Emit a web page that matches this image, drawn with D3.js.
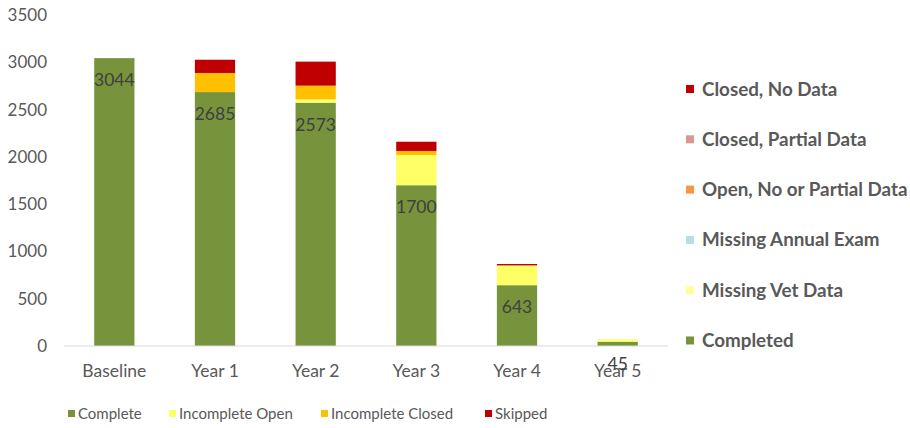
<!DOCTYPE html>
<html><head><meta charset="utf-8">
<script src="https://cdn.jsdelivr.net/npm/d3@7"></script>
<style>body{margin:0;background:#fff}svg{display:block}text{font-family:Lato,"Open Sans",sans-serif}</style>
</head><body><svg id="c" width="910" height="428"></svg>
<script>
const categories = ["Baseline","Year 1","Year 2","Year 3","Year 4","Year 5"];
const complete = [3044,2685,2573,1700,643,45];
const incompleteOpen = [0,0,35,320,206,25];
const incompleteClosed = [0,202,145,42,4,0];
const skipped = [0,140,254,98,14,0];
const seriesNames = ["Complete","Incomplete Open","Incomplete Closed","Skipped"];
const seriesColors = ["#77933C","#FFFF66","#FFC000","#C00000"];
const yTicks = [0,500,1000,1500,2000,2500,3000,3500];
const sideLegend = ["Closed, No Data","Closed, Partial Data","Open, No or Partial Data","Missing Annual Exam","Missing Vet Data","Completed"];
const sideColors = ["#C00000","#DA9694","#F79646","#B7DEE8","#FFFF99","#77933C"];

const svg = d3.select("#c");
const x = d3.scaleBand().domain(categories).range([64,668]).paddingInner(0.6).paddingOuter(0.3);
const y = d3.scaleLinear().domain([0,3500]).range([346,15]);

const rows = categories.map((c,i)=>({cat:c,"Complete":complete[i],"Incomplete Open":incompleteOpen[i],"Incomplete Closed":incompleteClosed[i],"Skipped":skipped[i]}));
const stacked = d3.stack().keys(seriesNames)(rows);

// y axis labels
const ya = svg.append("g").attr("transform","translate(47,0)")
  .call(d3.axisLeft(y).tickValues(yTicks).tickFormat(d3.format("d")).tickSize(0).tickPadding(0));
ya.select(".domain").remove();
ya.selectAll("text").attr("fill","#595959").style("font-size","17px").style("font-family","Lato");

// bars
stacked.forEach((s,k)=>{
  svg.append("g").selectAll("rect").data(s).join("rect")
    .attr("x",d=>x(d.data.cat)).attr("width",x.bandwidth())
    .attr("y",d=>y(d[1])).attr("height",d=>Math.max(0,y(d[0])-y(d[1])))
    .attr("fill",seriesColors[k]);
});

// x axis
const xa = svg.append("g").attr("transform","translate(0,346)")
  .call(d3.axisBottom(x).tickSize(0).tickPadding(19));
xa.select(".domain").attr("stroke","#D9D9D9").attr("stroke-width",1.2).attr("d","M64,0H668");
xa.selectAll("text").attr("fill","#595959").style("font-size","17.5px").style("font-family","Lato");

// value labels
svg.append("g").selectAll("text").data(stacked[0]).join("text")
  .attr("x",d=>x(d.data.cat)+x.bandwidth()/2).attr("y",d=>y(d[1])+28)
  .attr("text-anchor","middle").attr("fill","#404040").style("font-size","17.5px")
  .text(d=>d[1]);

// side legend
const sl = svg.append("g");
sideLegend.forEach((n,i)=>{
  const gy = 89 + i*50.3;
  sl.append("rect").attr("x",686).attr("y",gy-4).attr("width",8).attr("height",8).attr("fill",sideColors[i]);
  sl.append("text").attr("x",702).attr("y",gy+6.5).attr("fill","#595959")
    .style("font-size","18.8px").style("font-weight","bold").text(n);
});

// bottom legend
const bx = [68,169,321,485];
const bl = svg.append("g");
seriesNames.forEach((n,i)=>{
  bl.append("rect").attr("x",bx[i]).attr("y",410).attr("width",7).attr("height",7).attr("fill",seriesColors[i]);
  bl.append("text").attr("x",bx[i]+10).attr("y",419).attr("fill","#595959").style("font-size","15px").text(n);
});
</script></body></html>
